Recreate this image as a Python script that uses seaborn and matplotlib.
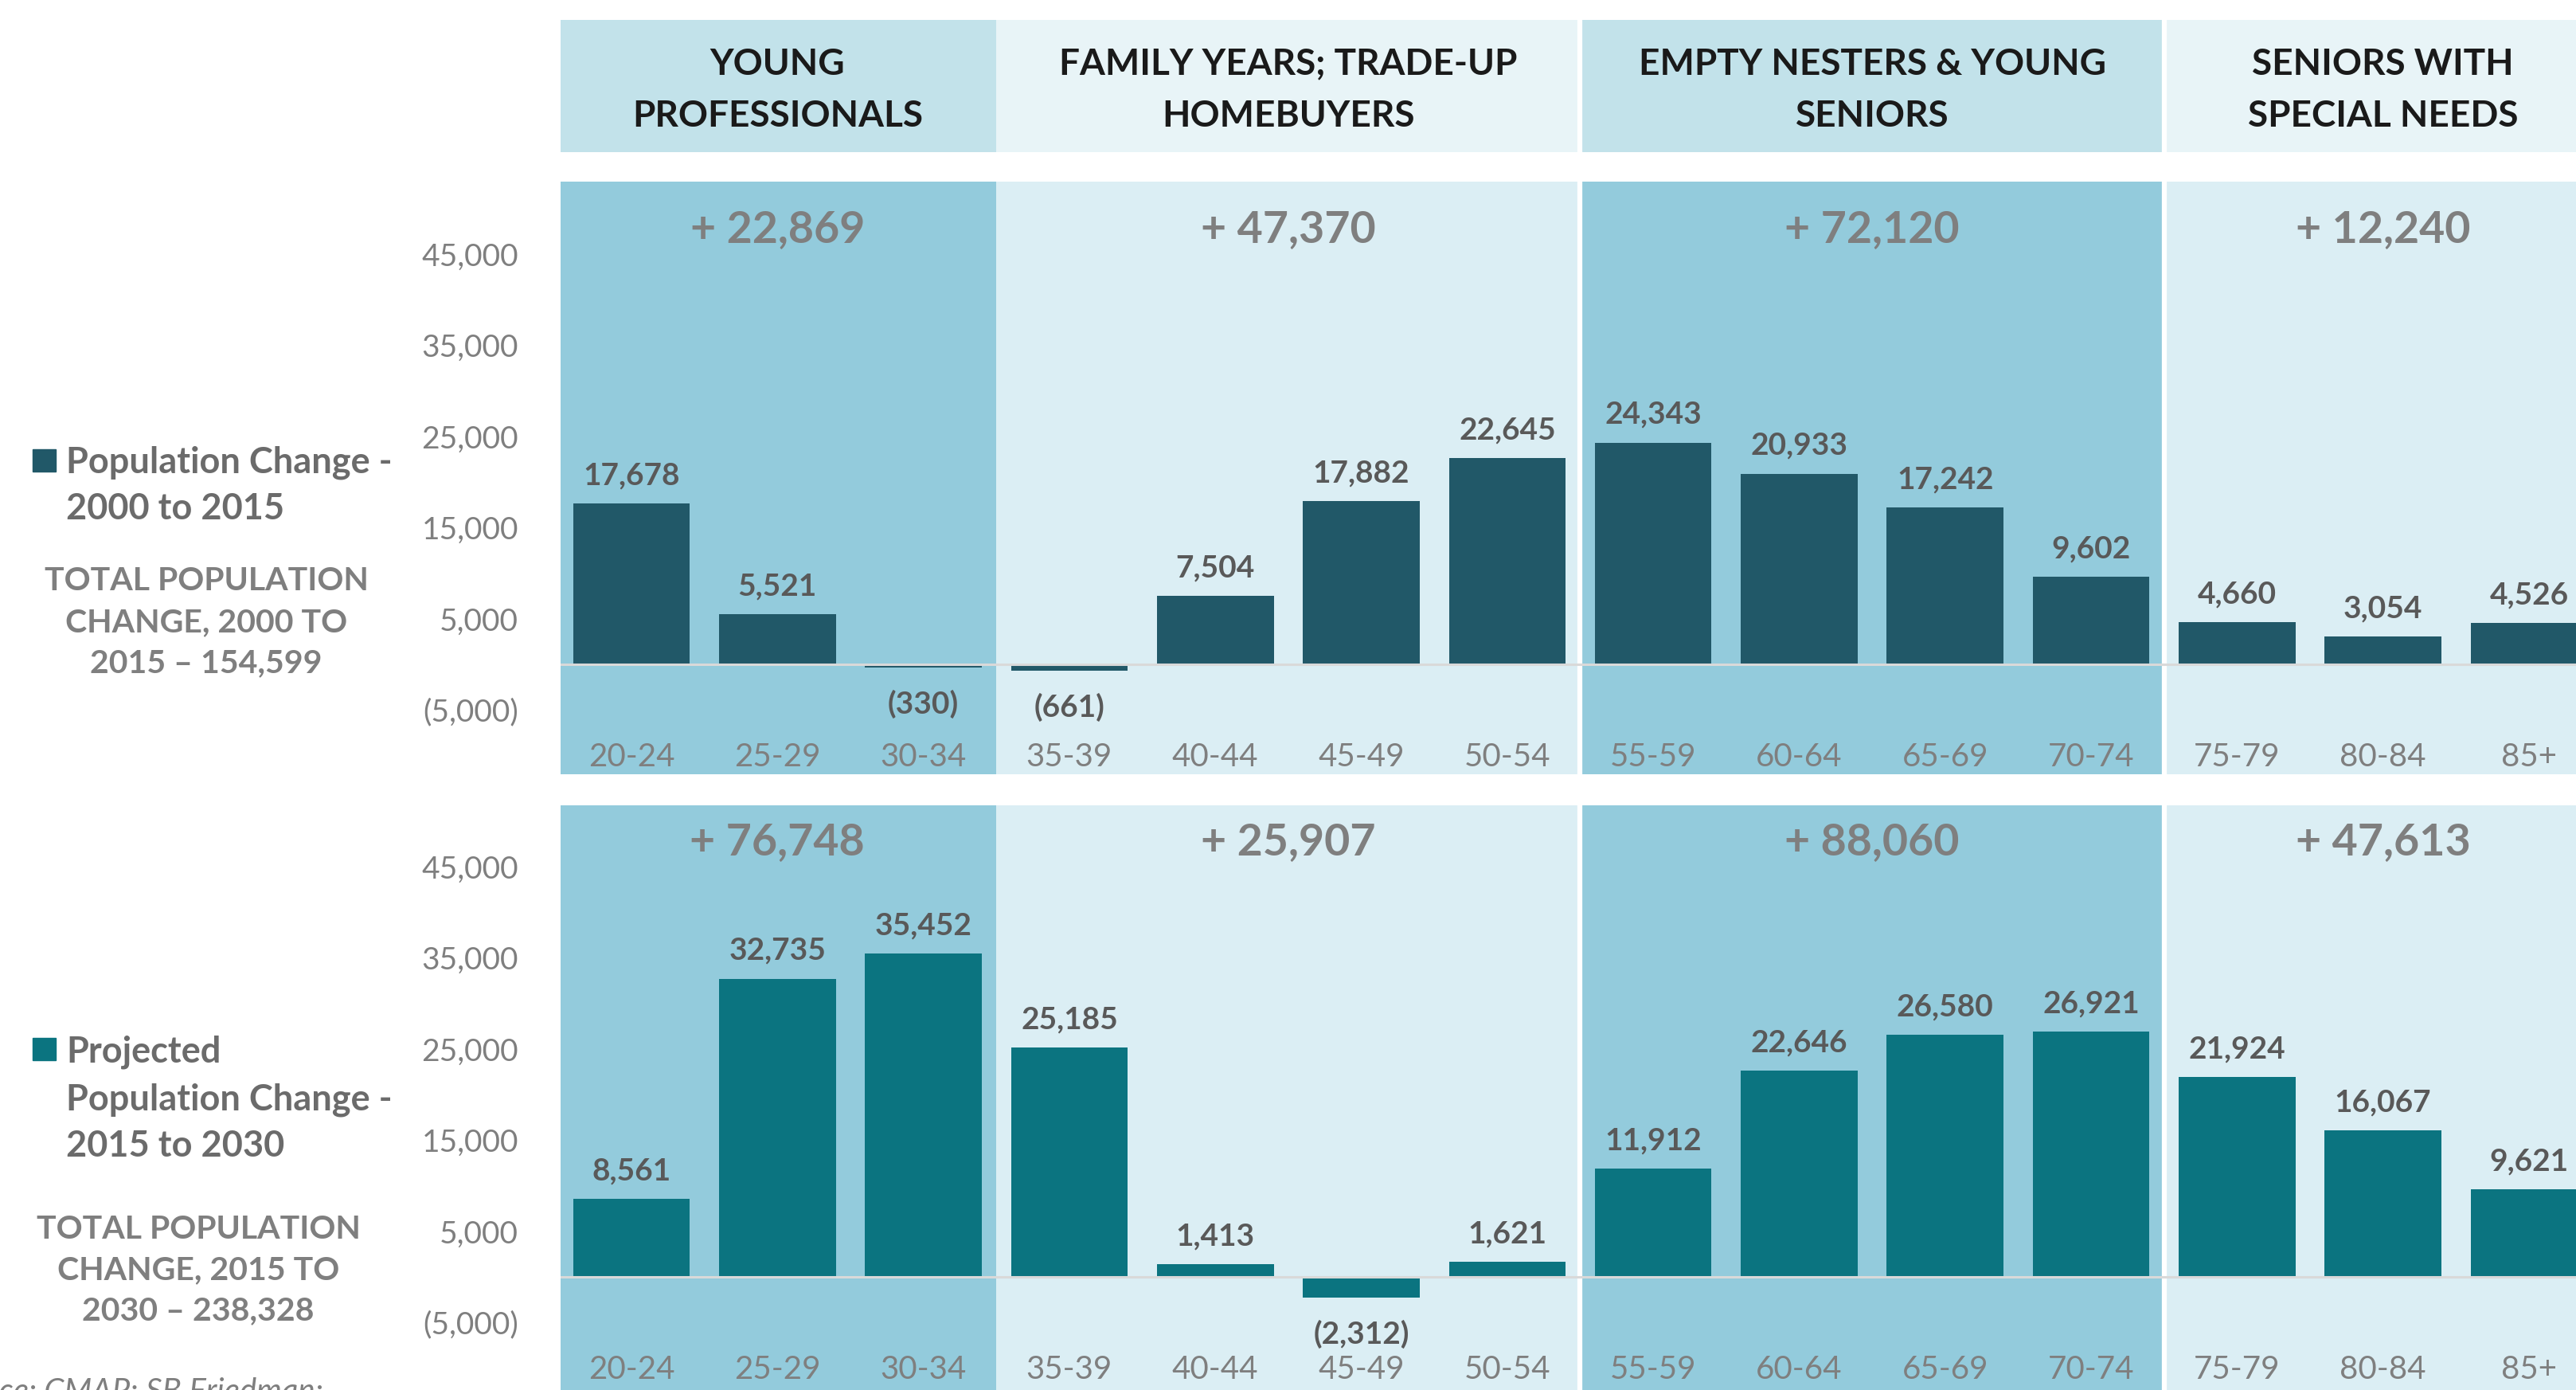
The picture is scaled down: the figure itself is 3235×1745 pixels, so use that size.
import matplotlib
matplotlib.use("Agg")
from matplotlib import pyplot as plt
from matplotlib.patches import Rectangle
import seaborn as sns

# ---- data ----
age_groups = ["20-24", "25-29", "30-34", "35-39", "40-44", "45-49", "50-54",
              "55-59", "60-64", "65-69", "70-74", "75-79", "80-84", "85+"]
change_2000_2015 = [17678, 5521, -330, -661, 7504, 17882, 22645,
                    24343, 20933, 17242, 9602, 4660, 3054, 4526]
change_2015_2030 = [8561, 32735, 35452, 25185, 1413, -2312, 1621,
                    11912, 22646, 26580, 26921, 21924, 16067, 9621]

life_stages = ["YOUNG\nPROFESSIONALS", "FAMILY YEARS; TRADE-UP\nHOMEBUYERS",
               "EMPTY NESTERS & YOUNG\nSENIORS", "SENIORS WITH\nSPECIAL NEEDS"]
stage_sizes = [3, 4, 4, 3]
stage_totals_2000_2015 = [22869, 47370, 72120, 12240]
stage_totals_2015_2030 = [76748, 25907, 88060, 47613]

legend_2000_2015 = ["Population Change -", "2000 to 2015"]
legend_2015_2030 = ["Projected", "Population Change -", "2015 to 2030"]
total_2000_2015 = ["TOTAL POPULATION", "CHANGE, 2000 TO", "2015 \u2013 154,599"]
total_2015_2030 = ["TOTAL POPULATION", "CHANGE, 2015 TO", "2030 \u2013 238,328"]
yticks = [-5000, 5000, 15000, 25000, 35000, 45000]

# ---- style ----
sns.set_style("white")
plt.rcParams["font.family"] = ["Lato", "DejaVu Sans"]

W, H = 3235, 1745
DARK = "#215868"
TEAL = "#0B7480"
BAND_MID, BAND_LIGHT = "#93CBDC", "#DBEEF4"
HEAD_MID, HEAD_LIGHT = "#C2E2EA", "#E8F4F7"
GREY = "#7F7F7F"
LABEL_GREY = "#595959"


def fx(px):
    return px / W


def fy(py):
    return 1 - py / H


fig = plt.figure(figsize=(W / 100, H / 100), dpi=100)

xlim = (-0.4855, 13.322)
bounds = [0]
for s in stage_sizes:
    bounds.append(bounds[-1] + s)
edges = [b - 0.5 for b in bounds]
edges[0], edges[-1] = xlim[0] - 1, xlim[1] + 1
centers = [(bounds[i] + bounds[i + 1] - 1) / 2 for i in range(len(stage_sizes))]


def draw_bands(ax, mid, light):
    for i in range(len(stage_sizes)):
        ax.axvspan(edges[i], edges[i + 1], color=mid if i % 2 == 0 else light,
                   lw=0, zorder=0)
    # thin white gutters either side of the empty-nester block
    for b in (bounds[2], bounds[3]):
        ax.axvline(b - 0.5, color="white", lw=4.5, zorder=0.5)


# header strip
hax = fig.add_axes([fx(704), fy(191), 1 - fx(704), 166 / H])
draw_bands(hax, HEAD_MID, HEAD_LIGHT)
hax.set_xlim(*xlim)
hax.set_ylim(0, 1)
hax.axis("off")
for c, stage in zip(centers, life_stages):
    for line, yy in zip(stage.split("\n"), (0.585, 0.19)):
        hax.text(c, yy, line, ha="center", va="baseline", fontsize=33,
                 fontweight="bold", color="#1A1A1A")


def panel(top_px, bottom_px, zero_px, values, totals, color):
    ax = fig.add_axes([fx(704), fy(bottom_px), 1 - fx(704), (bottom_px - top_px) / H])
    scale = 114.4 / 10000
    ax.set_ylim(-(bottom_px - zero_px) / scale, (zero_px - top_px) / scale)
    draw_bands(ax, BAND_MID, BAND_LIGHT)
    sns.barplot(x=age_groups, y=values, color=color, saturation=1, width=0.8,
                errorbar=None, ax=ax, zorder=2, linewidth=0, edgecolor="none")
    ax.axhline(0, color="#D9D9D9", lw=2.2, zorder=3)
    ax.set_xlim(*xlim)
    ax.set_xticks([])
    ax.set_yticks(yticks)
    ax.set_yticklabels([f"({abs(v):,})" if v < 0 else f"{v:,}" for v in yticks])
    ax.tick_params(axis="y", length=0, pad=38, labelsize=28, labelcolor=GREY)
    ax.set_xlabel("")
    ax.set_ylabel("")
    sns.despine(ax=ax, left=True, bottom=True)
    for i, v in enumerate(values):
        label = f"({abs(v):,})" if v < 0 else f"{v:,}"
        ax.annotate(label, (i, v), xytext=(0, 17 if v >= 0 else -20),
                    textcoords="offset points", ha="center",
                    va="baseline" if v >= 0 else "top", fontsize=28,
                    fontweight="bold", color=LABEL_GREY, zorder=4)
        ax.text(i, -11160, age_groups[i], ha="center", va="baseline",
                fontsize=29, color=GREY)
    for c, t in zip(centers, totals):
        ax.text(c, 46300, f"+ {t:,}", ha="center", va="baseline", fontsize=40,
                fontweight="bold", color=GREY)
    return ax


panel(228, 972, 834, change_2000_2015, stage_totals_2000_2015, DARK)
panel(1011, 1755, 1603, change_2015_2030, stage_totals_2015_2030, TEAL)


def side_text(square_y, legend_lines, legend_ys, total_lines, total_ys, total_x, color):
    fig.patches.append(Rectangle((fx(41), fy(square_y + 14)), 29 / W, 28 / H,
                                 transform=fig.transFigure, color=color))
    for line, yy in zip(legend_lines, legend_ys):
        fig.text(fx(83), fy(yy + 16), line, ha="left", va="baseline",
                 fontsize=32.5, fontweight="bold", color="#6B6B6B")
    for line, yy in zip(total_lines, total_ys):
        fig.text(fx(total_x), fy(yy + 14), line, ha="center", va="baseline",
                 fontsize=29.5, fontweight="bold", color=GREY)


side_text(578, legend_2000_2015, [578, 636], total_2000_2015, [727, 779, 830], 259, DARK)
side_text(1317, legend_2015_2030, [1317, 1378, 1436], total_2015_2030,
          [1541, 1592, 1643], 249, TEAL)

fig.text(fx(406), fy(1758), "Source: CMAP; SB Friedman;", ha="right", va="baseline",
         fontsize=29, style="italic", color=GREY)

fig.savefig("out.png", dpi=100)
